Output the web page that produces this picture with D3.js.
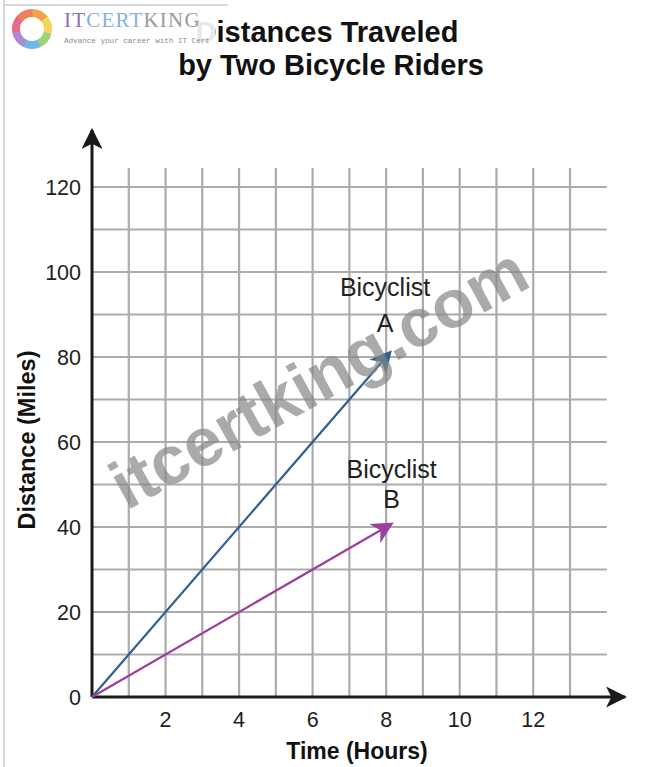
<!DOCTYPE html>
<html>
<head>
<meta charset="utf-8">
<script src="https://cdn.jsdelivr.net/npm/d3@7"></script>
<style>
  body { margin: 0; background: #fff; }
  text { font-family: "Liberation Sans", Arial, sans-serif; }
  text.serif { font-family: "Liberation Serif", "DejaVu Serif", serif; }
  text.mono { font-family: "Liberation Mono", "DejaVu Sans Mono", monospace; }
</style>
</head>
<body>
<svg id="chart" width="650" height="767"></svg>
<script>
// data
var xTicks = [2, 4, 6, 8, 10, 12];
var yTicks = [0, 20, 40, 60, 80, 100, 120];
var riderNames = ["A", "B"];
var riderA = [[0, 0], [8, 80]];
var riderB = [[0, 0], [8, 40]];
var riderColors = ["#2d5f91", "#9c3f9e"];

var svg = d3.select("#chart");

var x = d3.scaleLinear().domain([0, 13]).range([92, 570]);
var y = d3.scaleLinear().domain([0, 120]).range([697, 187]);

// frame of the screenshot
svg.append("line").attr("x1", 4).attr("y1", 0).attr("x2", 4).attr("y2", 767)
    .attr("stroke", "#c9ced6").attr("stroke-width", 1.5);
svg.append("line").attr("x1", 4).attr("y1", 5).attr("x2", 228).attr("y2", 5)
    .attr("stroke", "#c9ced6").attr("stroke-width", 1.5);

// grid
var grid = svg.append("g").attr("stroke", "#ababab").attr("stroke-width", 2.2);
grid.selectAll(".vg").data(d3.range(1, 14)).enter().append("line")
    .attr("x1", d => x(d)).attr("x2", d => x(d))
    .attr("y1", y(0)).attr("y2", y(124.5));
grid.selectAll(".hg").data(d3.range(10, 121, 10)).enter().append("line")
    .attr("x1", x(0)).attr("x2", x(14))
    .attr("y1", d => y(d)).attr("y2", d => y(d));

// axes with arrows
var defs = svg.append("defs");
defs.append("marker").attr("id", "axhead")
    .attr("viewBox", "0 0 10 10").attr("refX", 9).attr("refY", 5)
    .attr("markerWidth", 7).attr("markerHeight", 7).attr("markerUnits", "strokeWidth")
    .attr("orient", "auto")
  .append("path").attr("d", "M0,0 L10,5 L0,10 L2.5,5 Z").attr("fill", "#1a1a1a");

svg.append("line").attr("x1", x(0)).attr("y1", y(0)).attr("x2", 625).attr("y2", y(0))
    .attr("stroke", "#1a1a1a").attr("stroke-width", 3).attr("marker-end", "url(#axhead)");
svg.append("line").attr("x1", x(0)).attr("y1", y(0)).attr("x2", x(0)).attr("y2", 130)
    .attr("stroke", "#1a1a1a").attr("stroke-width", 3).attr("marker-end", "url(#axhead)");

// tick labels
svg.selectAll(".xt").data(xTicks).enter().append("text")
    .attr("x", d => x(d)).attr("y", 727)
    .attr("text-anchor", "middle").attr("font-size", 21.5).attr("fill", "#1e1e1e")
    .text(d => d);
svg.selectAll(".yt").data(yTicks).enter().append("text")
    .attr("x", 81).attr("y", d => y(d) + 8)
    .attr("text-anchor", "end").attr("font-size", 21.5).attr("fill", "#1e1e1e")
    .text(d => d);

// axis titles
svg.append("text").attr("x", 357).attr("y", 759)
    .attr("text-anchor", "middle").attr("font-size", 23).attr("font-weight", "bold")
    .attr("fill", "#111").text("Time (Hours)");
svg.append("text").attr("transform", "translate(35,440) rotate(-90)")
    .attr("text-anchor", "middle").attr("font-size", 23.5).attr("font-weight", "bold")
    .attr("fill", "#111").text("Distance (Miles)");

// title
svg.append("text").attr("x", 327).attr("y", 42)
    .attr("text-anchor", "middle").attr("font-size", 29).attr("font-weight", "bold")
    .attr("fill", "#111").text("Distances Traveled");
svg.append("text").attr("x", 331).attr("y", 75)
    .attr("text-anchor", "middle").attr("font-size", 29).attr("font-weight", "bold")
    .attr("fill", "#111").text("by Two Bicycle Riders");

// rider lines
var line = d3.line().x(d => x(d[0])).y(d => y(d[1]));
[riderA, riderB].forEach(function(r, i){
    defs.append("marker").attr("id", "head" + i)
        .attr("viewBox", "0 0 10 10").attr("refX", 6).attr("refY", 5)
        .attr("markerWidth", 10).attr("markerHeight", 10).attr("markerUnits", "strokeWidth")
        .attr("orient", "auto")
      .append("path").attr("d", "M0,0 L10,5 L0,10 L3,5 Z").attr("fill", riderColors[i]);
    svg.append("path").datum(r).attr("d", line)
        .attr("fill", "none").attr("stroke", riderColors[i]).attr("stroke-width", 2.2)
        .attr("marker-end", "url(#head" + i + ")");
});

// rider labels
var labelPos = [[7.97, 94.3, 86], [8.15, 51.5, 44.5]];
riderNames.forEach(function(n, i){
    var p = labelPos[i];
    svg.append("text").attr("x", x(p[0])).attr("y", y(p[1]))
        .attr("text-anchor", "middle").attr("font-size", 25).attr("fill", "#222")
        .text("Bicyclist");
    svg.append("text").attr("x", x(p[0])).attr("y", y(p[2]))
        .attr("text-anchor", "middle").attr("font-size", 25).attr("fill", "#222")
        .text(n);
});

// watermark
svg.append("text").attr("transform", "translate(330,398) rotate(-29)")
    .attr("text-anchor", "middle").attr("font-size", 68).attr("font-weight", "bold")
    .attr("fill", "#878787").attr("opacity", 0.7).text("itcertking.com");

// logo over the start of the title
svg.append("rect").attr("x", 6).attr("y", 8).attr("width", 209).attr("height", 42)
    .attr("fill", "#fff").attr("opacity", 0.9);
var logo = svg.append("g").attr("transform", "translate(32,29)");
var arc = d3.arc().innerRadius(12).outerRadius(20);
var logoColors = ["#f2a24a", "#f6d55a", "#9bd27a", "#6fb6e8", "#a78bd8", "#e56b8a", "#ef7f5a"];
logoColors.forEach(function(c, i){
    logo.append("path")
        .attr("d", arc({startAngle: i * 2 * Math.PI / 7, endAngle: (i + 1) * 2 * Math.PI / 7 + 0.02}))
        .attr("fill", c);
});
svg.append("text").attr("class", "serif").attr("x", 64).attr("y", 27)
    .attr("font-size", 21).attr("letter-spacing", 1.2)
    .html('<tspan fill="#8b6fb8">IT</tspan><tspan fill="#7fb3e0">CERT</tspan><tspan fill="#9a9a9a">KING</tspan>');
svg.append("text").attr("class", "mono").attr("x", 64).attr("y", 43)
    .attr("font-size", 7.6).attr("fill", "#8a8a8a").text("Advance your career with IT Cert");
</script>
</body>
</html>
